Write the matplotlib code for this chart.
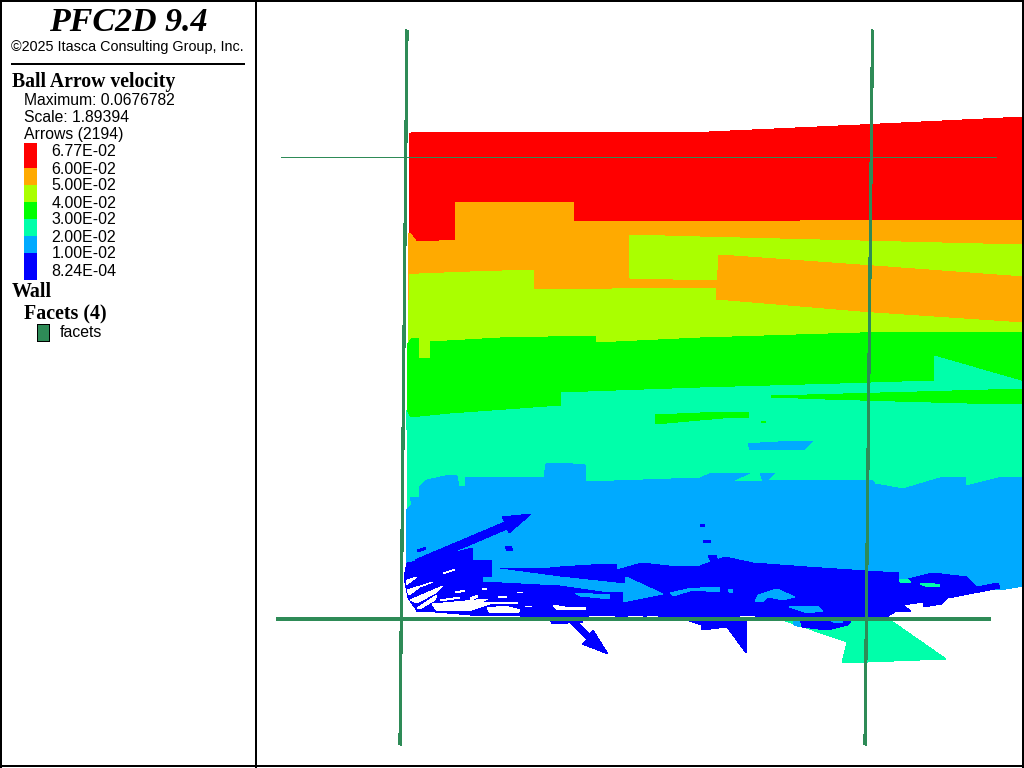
import matplotlib
matplotlib.use("Agg")
import matplotlib.pyplot as plt

# outlines, in screen pixels of the model view
red_band = [(410, 133), (409, 153), (409, 205), (409, 235), (409, 250), (1024, 250),
            (1024, 117), (860, 125), (709, 132)]
orange_band = [(408, 233), (410, 233), (416, 241), (439, 241), (439, 240), (455, 240), (455, 202),
               (574, 202), (574, 222), (800, 221), (1024, 220), (1024, 350), (408, 350)]
lime_band = [(409, 275), (419, 274), (470, 272), (534, 270), (534, 289), (612, 289), (1024, 287),
             (1024, 362), (408, 362), (408, 330), (409, 300)]
lime_island = [(630, 235), (700, 237), (860, 241), (1024, 245), (1024, 290), (717, 280), (630, 278),
               (629, 262)]
orange_block = [(719, 255), (860, 265), (1024, 277), (1024, 322), (860, 311), (716, 299), (716, 290),
                (718, 270)]
green_band = [(412, 338), (418, 338), (419, 359), (430, 358), (430, 342), (500, 338), (596, 336),
              (596, 343), (700, 338), (860, 333), (1024, 332), (1024, 430), (407, 430), (407, 345)]
spring_band = [(406, 410), (410, 418), (450, 414), (520, 409), (561, 406), (561, 393), (700, 388),
               (840, 384), (934, 381), (934, 356), (1024, 382), (1024, 510), (407, 510), (407, 430)]
green_strip_a = [(771, 396), (843, 394), (917, 392), (988, 390), (1024, 389), (1024, 404), (967, 403),
                 (895, 401), (825, 399), (771, 397)]
green_strip_b = [(655, 415), (700, 413), (723, 412), (749, 412), (749, 417), (723, 418), (700, 420),
                 (655, 424)]
green_speck = [(761, 421), (766, 421), (766, 423), (761, 423)]
sky_band = [(410, 497), (419, 497), (419, 487), (427, 480), (445, 476), (452, 475), (457, 476),
            (459, 487), (465, 486), (465, 478), (544, 477), (546, 464), (560, 463), (585, 465),
            (586, 482), (700, 478), (712, 473), (750, 473), (732, 481), (763, 481), (760, 473),
            (775, 473), (767, 481), (872, 480), (875, 484), (903, 489), (940, 478), (966, 477),
            (966, 486), (1002, 477), (1024, 478), (1024, 586), (1000, 590), (407, 590), (406, 550),
            (406, 510), (412, 505)]
sky_patch = [(748, 444), (760, 443), (797, 441), (813, 441), (803, 450), (750, 450)]

blue_main = [(407, 563), (423, 560), (473, 548), (473, 560), (492, 560), (492, 568), (550, 568),
             (560, 567), (607, 564), (617, 564), (617, 570), (642, 563), (677, 567), (700, 566),
             (725, 557), (753, 563), (807, 567), (867, 571), (899, 573), (899, 582), (912, 578),
             (933, 573), (967, 577), (977, 587), (998, 583), (1000, 588), (948, 598), (942, 604),
             (923, 607), (923, 602), (903, 605), (911, 611), (895, 612), (885, 618), (420, 618),
             (415, 608), (408, 598), (406, 588), (404, 577)]
blue_arrow_up = [(415, 560), (505, 522), (502, 517), (531, 514), (509, 533), (507, 529), (420, 566)]
blue_arrow_down = [(567, 620), (575, 620), (590, 634), (593, 630), (608, 654), (582, 644), (587, 639)]
blue_strip_low = [(549, 618), (583, 618), (583, 622), (552, 624)]
blue_wedge = [(680, 618), (747, 618), (747, 621), (746, 653), (727, 627), (702, 630), (701, 625)]
blue_specks = [
    [(505, 547), (511, 546), (513, 551), (507, 551)],
    [(700, 525), (705, 524), (705, 527), (700, 527)],
    [(703, 540), (711, 540), (711, 543), (704, 543)],
    [(708, 555), (716, 555), (719, 566), (713, 566)],
    [(417, 550), (426, 547), (426, 549), (418, 552)],
]
spring_tail = [(777, 618), (860, 618), (875, 616), (890, 620), (946, 659), (842, 663), (847, 642)]
blue_tail = [(800, 618), (853, 618), (848, 625), (827, 630), (802, 627)]

sky_arrow = [(492, 568), (560, 577), (625, 584), (626, 577), (663, 594), (623, 602), (623, 592),
             (610, 592), (560, 585), (483, 581), (483, 577), (492, 577)]
sky_slivers = [
    [(670, 593), (692, 588), (720, 588), (720, 592), (693, 590), (673, 596)],
    [(755, 602), (758, 595), (777, 589), (795, 597), (783, 600), (768, 597), (763, 602)],
    [(789, 607), (817, 606), (823, 611), (807, 613)],
    [(700, 587), (720, 588), (720, 591), (700, 590)],
    [(728, 589), (733, 589), (733, 593), (729, 592)],
    [(793, 620), (800, 620), (800, 627), (794, 625)],
    [(830, 620), (843, 620), (843, 623), (835, 623)],
    [(575, 593), (610, 595), (610, 599), (580, 596)],
]
spring_specks = [
    [(899, 580), (908, 579), (911, 583), (900, 582)],
    [(920, 584), (930, 583), (940, 585), (940, 587), (925, 586)],
]

white_streaks = [
    [(443, 573), (455, 569), (455, 570), (443, 574)],
    [(407, 580), (417, 577), (406, 585)],
    [(407, 590), (433, 582), (420, 587), (409, 595)],
    [(410, 600), (443, 586), (437, 592), (417, 603)],
    [(417, 608), (437, 595), (435, 600), (420, 609)],
    [(440, 600), (460, 597), (460, 598), (440, 601)],
    [(455, 592), (465, 590), (465, 591), (456, 593)],
    [(470, 598), (478, 595), (478, 597), (471, 600)],
    [(482, 588), (487, 588), (487, 590), (482, 590)],
    [(432, 604), (488, 599), (480, 603), (518, 602), (518, 604), (490, 604), (472, 610), (455, 611),
     (437, 611)],
    [(487, 608), (505, 606), (520, 610), (518, 613), (490, 613)],
    [(498, 596), (507, 597), (507, 598), (498, 598)],
    [(517, 592), (523, 592), (523, 593), (517, 593)],
    [(525, 606), (532, 606), (532, 607), (525, 607)],
    [(553, 605), (565, 607), (585, 607), (586, 610), (556, 609)],
    [(405, 612), (423, 612), (470, 616), (520, 616), (520, 618), (405, 618)],
    [(589, 616), (615, 616), (615, 618), (589, 618)],
    [(628, 616), (643, 616), (643, 618), (628, 618)],
    [(647, 616), (658, 616), (658, 618), (647, 618)],
    [(740, 616), (755, 616), (755, 618), (740, 618)],
]

wall_lines = [
    ([407, 400], [30, 745], 1.6),
    ([872.5, 865], [30, 745], 1.6),
    ([276, 991], [619, 619], 1.5),
    ([281, 996], [157, 157], 0.7),
]

# panel rules as x0, x1, y0, y1
panel_rules = [
    (0, 2, 0, 768), (1022, 1024, 0, 768), (0, 1024, 0, 2), (0, 1024, 765, 767),
    (255, 257, 0, 768), (11, 245, 63, 65),
]

legend_edges = [143, 168, 185, 202, 219, 236, 253, 280]
legend_colours = ["#ff0000", "#ffaa00", "#aaff00", "#00ff00", "#00ffaa", "#00aaff", "#0000ff"]
legend_values = ["6.77E-02", "6.00E-02", "5.00E-02", "4.00E-02", "3.00E-02", "2.00E-02", "1.00E-02",
                 "8.24E-04"]

RED, ORANGE, LIME, GREEN, SPRING, SKY, BLUE = legend_colours
WALL = "#2e8b57"
SANS = "Liberation Sans"
SERIF = "Liberation Serif"


def fill(ax, outline, colour):
    xs, ys = zip(*outline)
    ax.fill(xs, ys, color=colour, antialiased=False, linewidth=0)


fig = plt.figure(figsize=(10.24, 7.68), dpi=100)
ax = fig.add_axes([0, 0, 1, 1])
ax.set_xlim(0, 1024)
ax.set_ylim(768, 0)
ax.axis("off")

for outline, colour in [
    (red_band, RED), (orange_band, ORANGE), (lime_band, LIME), (lime_island, LIME),
    (orange_block, ORANGE), (green_band, GREEN), (spring_band, SPRING), (green_strip_a, GREEN),
    (green_strip_b, GREEN), (green_speck, GREEN), (sky_band, SKY), (sky_patch, SKY),
    (spring_tail, SPRING), (blue_tail, BLUE), (blue_main, BLUE), (blue_arrow_up, BLUE),
    (blue_arrow_down, BLUE), (blue_strip_low, BLUE), (blue_wedge, BLUE), (sky_arrow, SKY),
]:
    fill(ax, outline, colour)
for outline in blue_specks:
    fill(ax, outline, BLUE)
for outline in sky_slivers:
    fill(ax, outline, SKY)
for outline in spring_specks:
    fill(ax, outline, SPRING)
for outline in white_streaks:
    fill(ax, outline, "white")

for xs, ys, width in wall_lines:
    ax.plot(xs, ys, color=WALL, linewidth=width, antialiased=False, solid_capstyle="butt")

# side panel
ax.fill([0, 256, 256, 0], [0, 0, 768, 768], color="white", linewidth=0, zorder=3)
for x0, x1, y0, y1 in panel_rules:
    ax.fill([x0, x1, x1, x0], [y0, y0, y1, y1], color="black", linewidth=0, antialiased=False, zorder=4)

ax.text(128, 31, "PFC2D 9.4", family=SERIF, weight="bold", style="italic", fontsize=24.5,
        ha="center", va="baseline", zorder=5)
ax.text(11, 51, "©2025 Itasca Consulting Group, Inc.", family=SANS, fontsize=10.35, va="baseline", zorder=5)
ax.text(12, 87.5, "Ball Arrow velocity", family=SERIF, weight="bold", fontsize=14.2, va="baseline", zorder=5)
ax.text(24, 105, "Maximum: 0.0676782", family=SANS, fontsize=11.35, va="baseline", zorder=5)
ax.text(24, 122, "Scale: 1.89394", family=SANS, fontsize=11.35, va="baseline", zorder=5)
ax.text(24, 139, "Arrows (2194)", family=SANS, fontsize=11.35, va="baseline", zorder=5)

for i, colour in enumerate(legend_colours):
    ax.fill([24, 37, 37, 24], [legend_edges[i], legend_edges[i], legend_edges[i + 1], legend_edges[i + 1]],
            color=colour, linewidth=0, antialiased=False, zorder=5)
for i, label in enumerate(legend_values):
    ax.text(51.5, 156.5 + 17 * i, label, family=SANS, fontsize=11.5, va="baseline", zorder=5)

ax.text(12, 297, "Wall", family=SERIF, weight="bold", fontsize=14.4, va="baseline", zorder=5)
ax.text(24, 319, "Facets (4)", family=SERIF, weight="bold", fontsize=14.4, va="baseline", zorder=5)
ax.fill([36.5, 48.5, 48.5, 36.5], [323.5, 323.5, 340.5, 340.5], facecolor=WALL, edgecolor="black",
        linewidth=0.7, antialiased=False, zorder=5)
ax.text(60, 337, "facets", family=SANS, fontsize=11.4, va="baseline", zorder=5)

fig.savefig("out.png", dpi=100)
plt.close(fig)
